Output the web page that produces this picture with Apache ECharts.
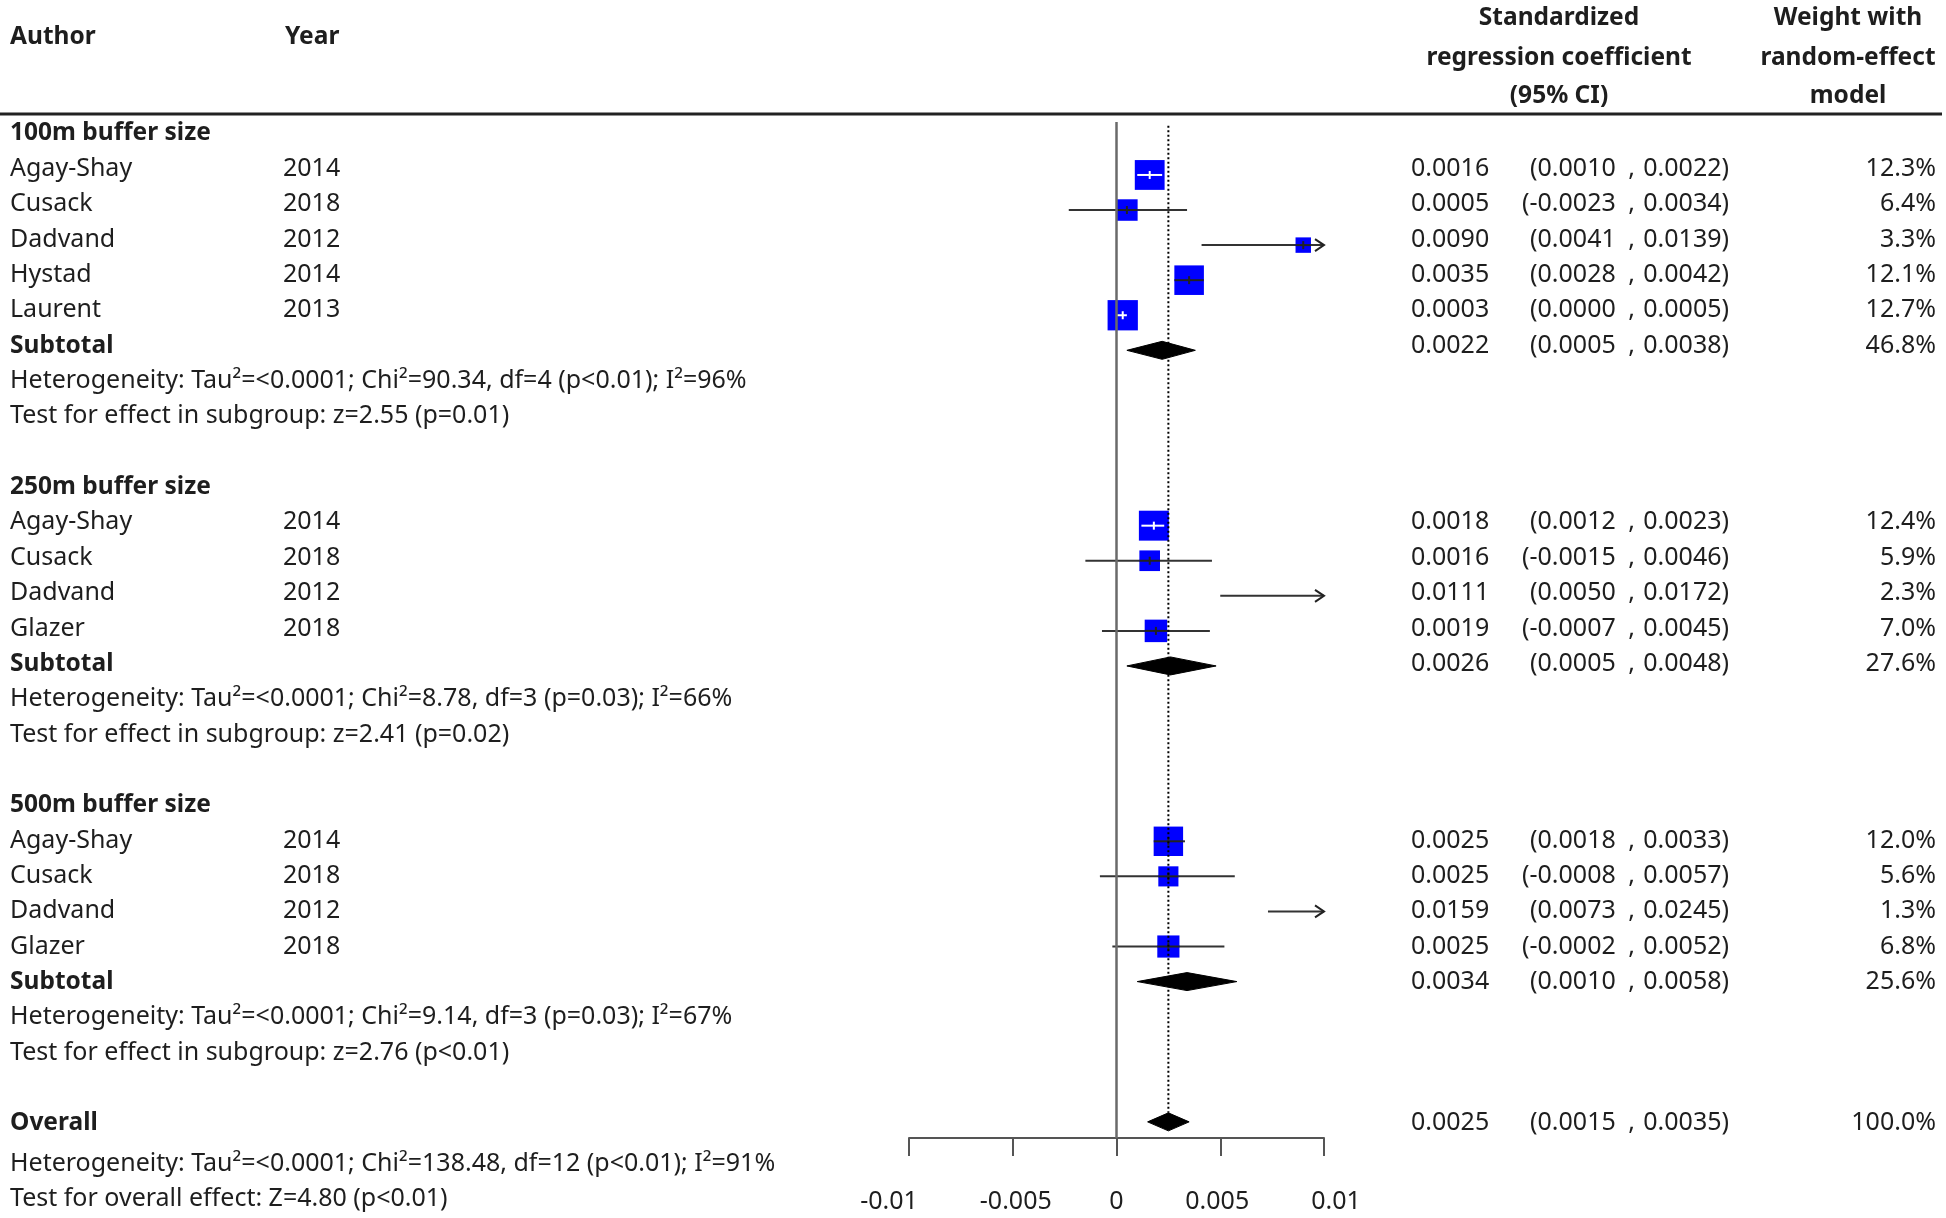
<!DOCTYPE html>
<html>
<head>
<meta charset="utf-8">
<script src="https://cdn.jsdelivr.net/npm/echarts@6/dist/echarts.min.js"></script>
<style>
html,body{margin:0;padding:0;background:#ffffff;}
#chart{width:1946px;height:1218px;}
</style>
</head>
<body>
<div id="chart"></div>
<script>
// ---------------- DATA ----------------
const groupNames = ['100m buffer size', '250m buffer size', '500m buffer size'];
const studyGroup  = [0, 0, 0, 0, 0, 1, 1, 1, 1, 2, 2, 2, 2];
const studyAuthor = ['Agay-Shay', 'Cusack', 'Dadvand', 'Hystad', 'Laurent',
                     'Agay-Shay', 'Cusack', 'Dadvand', 'Glazer',
                     'Agay-Shay', 'Cusack', 'Dadvand', 'Glazer'];
const studyYear   = ['2014', '2018', '2012', '2014', '2013',
                     '2014', '2018', '2012', '2018',
                     '2014', '2018', '2012', '2018'];
const studyEst    = [0.0016, 0.0005, 0.0090, 0.0035, 0.0003,
                     0.0018, 0.0016, 0.0111, 0.0019,
                     0.0025, 0.0025, 0.0159, 0.0025];
const studyLo     = [0.0010, -0.0023, 0.0041, 0.0028, 0.0000,
                     0.0012, -0.0015, 0.0050, -0.0007,
                     0.0018, -0.0008, 0.0073, -0.0002];
const studyHi     = [0.0022, 0.0034, 0.0139, 0.0042, 0.0005,
                     0.0023, 0.0046, 0.0172, 0.0045,
                     0.0033, 0.0057, 0.0245, 0.0052];
const studyWeight = [12.3, 6.4, 3.3, 12.1, 12.7,
                     12.4, 5.9, 2.3, 7.0,
                     12.0, 5.6, 1.3, 6.8];

const subEst    = [0.0022, 0.0026, 0.0034];
const subLo     = [0.0005, 0.0005, 0.0010];
const subHi     = [0.0038, 0.0048, 0.0058];
const subWeight = [46.8, 27.6, 25.6];
const subHet = [
  'Heterogeneity: Tau\u00B2=<0.0001; Chi\u00B2=90.34, df=4 (p<0.01); I\u00B2=96%',
  'Heterogeneity: Tau\u00B2=<0.0001; Chi\u00B2=8.78, df=3 (p=0.03); I\u00B2=66%',
  'Heterogeneity: Tau\u00B2=<0.0001; Chi\u00B2=9.14, df=3 (p=0.03); I\u00B2=67%'
];
const subTest = [
  'Test for effect in subgroup: z=2.55 (p=0.01)',
  'Test for effect in subgroup: z=2.41 (p=0.02)',
  'Test for effect in subgroup: z=2.76 (p<0.01)'
];

const overallEst = 0.0025, overallLo = 0.0015, overallHi = 0.0035, overallWeight = 100.0;
const overallHet  = 'Heterogeneity: Tau\u00B2=<0.0001; Chi\u00B2=138.48, df=12 (p<0.01); I\u00B2=91%';
const overallTest = 'Test for overall effect: Z=4.80 (p<0.01)';

const tickValues = [-0.01, -0.005, 0, 0.005, 0.01];
const tickLabels = ['-0.01', '-0.005', '0', '0.005', '0.01'];

const headerLeft = ['Author', 'Year'];
const headerCI   = ['Standardized', 'regression coefficient', '(95% CI)'];
const headerW    = ['Weight with', 'random-effect', 'model'];

// ---------------- LAYOUT / STYLE ----------------
const FONT = '"Noto Sans", "Open Sans", sans-serif';
const FS = 25;
const FS_BOLD = 24.5;
const TXT = '#1e1e1e';
const COL = { author: 10, year: 283, est: 1411, ci: 1729, w: 1936, ciHead: 1559, wHead: 1848 };
const GRID = { left: 909, width: 415, top: 0, height: 1138 };
const MARK_AXIS = { min: -3.989, max: 28.46 };   // rows -> pixels for marks
const TEXT_AXIS = { min: -3.7765, max: 28.416 }; // rows -> pixels for text
const SQUARE_K = 8.5;
const DIAMOND_H = 9;
const TICK_LABEL_SHIFT = [-20, 3, 0, -3, 12];    // px offsets of tick labels (as in reference)
const X_MIN = tickValues[0], X_MAX = tickValues[tickValues.length - 1];

// ---------------- BUILD ROWS ----------------
const textRows = [];
const studyData = [];
const diamondData = [];
let r = 0;
groupNames.forEach((g, gi) => {
  textRows.push({ r: r, author: g, bold: true });
  r++;
  for (let i = 0; i < studyAuthor.length; i++) {
    if (studyGroup[i] !== gi) continue;
    textRows.push({ r: r, author: studyAuthor[i], year: studyYear[i],
                    est: studyEst[i], lo: studyLo[i], hi: studyHi[i], w: studyWeight[i] });
    studyData.push([studyEst[i], r, studyLo[i], studyHi[i], studyWeight[i]]);
    r++;
  }
  textRows.push({ r: r, author: 'Subtotal', bold: true,
                  est: subEst[gi], lo: subLo[gi], hi: subHi[gi], w: subWeight[gi] });
  diamondData.push([subEst[gi], r, subLo[gi], subHi[gi]]);
  r++;
  textRows.push({ r: r, author: subHet[gi] }); r++;
  textRows.push({ r: r, author: subTest[gi] }); r++;
  r++;
});
const overallRow = r;
textRows.push({ r: overallRow, author: 'Overall', bold: true,
                est: overallEst, lo: overallLo, hi: overallHi, w: overallWeight });
diamondData.push([overallEst, overallRow, overallLo, overallHi]);
textRows.push({ r: overallRow + 1.15, author: overallHet });
textRows.push({ r: overallRow + 2.15, author: overallTest });

const fmt4 = v => v.toFixed(4);

function txt(text, x, y, align, bold) {
  return {
    type: 'text', x: x, y: y, silent: true,
    style: {
      text: text, fill: TXT, fontSize: bold ? FS_BOLD : FS, fontFamily: FONT,
      fontWeight: bold ? 'bold' : 'normal',
      align: align, verticalAlign: 'middle',
      textAlign: align, textVerticalAlign: 'middle'
    }
  };
}

function renderText(params, api) {
  const t = textRows[params.dataIndex];
  const y = api.coord([0, t.r])[1];
  const ch = [txt(t.author, COL.author, y, 'left', t.bold)];
  if (t.year) ch.push(txt(t.year, COL.year, y, 'left', false));
  if (t.est !== undefined) {
    ch.push(txt(fmt4(t.est), COL.est, y, 'left', false));
    ch.push(txt('(' + fmt4(t.lo) + '\u2002,\u2004' + fmt4(t.hi) + ')', COL.ci, y, 'right', false));
    ch.push(txt(t.w.toFixed(1) + '%', COL.w, y, 'right', false));
  }
  return { type: 'group', children: ch };
}

function renderStudy(params, api) {
  const est = api.value(0), row = api.value(1), lo = api.value(2), hi = api.value(3), w = api.value(4);
  const y = api.coord([0, row])[1];
  const xLo = api.coord([Math.max(lo, X_MIN), row])[0];
  const xHi = api.coord([Math.min(hi, X_MAX), row])[0];
  const xe = api.coord([est, row])[0];
  const ch = [{ type: 'line', shape: { x1: xLo, y1: y, x2: xHi, y2: y },
                style: { stroke: '#333333', lineWidth: 2 } }];
  if (hi > X_MAX) {
    ch.push({ type: 'polyline', shape: { points: [[xHi - 9, y - 6], [xHi, y], [xHi - 9, y + 6]] },
              style: { stroke: '#222222', lineWidth: 2, fill: null } });
  }
  if (lo < X_MIN) {
    ch.push({ type: 'polyline', shape: { points: [[xLo + 9, y - 6], [xLo, y], [xLo + 9, y + 6]] },
              style: { stroke: '#222222', lineWidth: 2, fill: null } });
  }
  if (est >= X_MIN && est <= X_MAX) {
    const s = SQUARE_K * Math.sqrt(w);
    ch.push({ type: 'rect', shape: { x: xe - s / 2, y: y - s / 2, width: s, height: s },
              style: { fill: '#0000ff' } });
    const inside = (xHi - xLo) < 0.95 * s ? '#ffffff' : '#222222';
    const a = Math.max(xLo, xe - s / 2), b = Math.min(xHi, xe + s / 2);
    ch.push({ type: 'line', shape: { x1: a, y1: y, x2: b, y2: y }, style: { stroke: inside, lineWidth: 2 } });
    ch.push({ type: 'line', shape: { x1: xe, y1: y - 4, x2: xe, y2: y + 4 }, style: { stroke: inside, lineWidth: 2 } });
  }
  return { type: 'group', children: ch };
}

function renderDiamond(params, api) {
  const est = api.value(0), row = api.value(1), lo = api.value(2), hi = api.value(3);
  const y = api.coord([0, row])[1];
  const xl = api.coord([lo, row])[0], xr = api.coord([hi, row])[0], xe = api.coord([est, row])[0];
  return { type: 'polygon',
           shape: { points: [[xl, y], [xe, y - DIAMOND_H], [xr, y], [xe, y + DIAMOND_H]] },
           style: { fill: '#000000', stroke: '#000000', lineWidth: 1 } };
}

const ZERO_TOP_ROW = -0.51;
const DOT_TOP_ROW = -0.40;
const rowPx = GRID.height / (MARK_AXIS.max - MARK_AXIS.min);

const graphics = [];
graphics.push({ type: 'line', shape: { x1: 0, y1: 114, x2: 1942, y2: 114 },
                style: { stroke: '#222222', lineWidth: 3 }, silent: true });
graphics.push(txt(headerLeft[0], COL.author, 37, 'left', true));
graphics.push(txt(headerLeft[1], COL.year + 2, 37, 'left', true));
const headY = [18, 58, 96];
headerCI.forEach((h, i) => graphics.push(txt(h, COL.ciHead, headY[i], 'center', true)));
headerW.forEach((h, i) => graphics.push(txt(h, COL.wHead, headY[i], 'center', true)));

// rich styles shifting each tick label horizontally
const tickRich = {};
TICK_LABEL_SHIFT.forEach((s, i) => {
  tickRich['t' + i] = {
    fontSize: FS, fontFamily: FONT, color: TXT,
    padding: s < 0 ? [0, -2 * s, 0, 0] : [0, 0, 0, 2 * s]
  };
});

const chart = echarts.init(document.getElementById('chart'), null, { renderer: 'canvas' });
chart.setOption({
  animation: false,
  backgroundColor: '#ffffff',
  grid: { left: GRID.left, width: GRID.width, top: GRID.top, height: GRID.height, containLabel: false },
  xAxis: {
    type: 'value', min: X_MIN, max: X_MAX, interval: 0.005, position: 'bottom',
    axisLine: { show: true, onZero: false, lineStyle: { color: '#555555', width: 2 } },
    axisTick: { show: true, length: 18, lineStyle: { color: '#555555', width: 2 } },
    axisLabel: {
      show: true, margin: 51, fontSize: FS, fontFamily: FONT, color: TXT,
      showMinLabel: true, showMaxLabel: true,
      rich: tickRich,
      formatter: v => {
        const k = tickValues.findIndex(t => Math.abs(t - v) < 1e-9);
        return k >= 0 ? '{t' + k + '|' + tickLabels[k] + '}' : '';
      }
    },
    splitLine: { show: false }
  },
  yAxis: [
    { type: 'value', inverse: true, min: MARK_AXIS.min, max: MARK_AXIS.max, show: false },
    { type: 'value', inverse: true, min: TEXT_AXIS.min, max: TEXT_AXIS.max, show: false }
  ],
  graphic: graphics,
  series: [
    { type: 'line', yAxisIndex: 0, symbol: 'none', silent: true,
      data: [[0, ZERO_TOP_ROW], [0, MARK_AXIS.max]],
      lineStyle: { color: '#6a6a6a', width: 2.5 } },
    { type: 'line', yAxisIndex: 0, symbol: 'none', silent: true,
      data: [[overallEst, DOT_TOP_ROW], [overallEst, overallRow - DIAMOND_H / rowPx]],
      lineStyle: { color: '#000000', width: 2, type: [2, 2.5] } },
    { type: 'custom', yAxisIndex: 0, clip: false, silent: true,
      data: studyData, renderItem: renderStudy },
    { type: 'custom', yAxisIndex: 0, clip: false, silent: true,
      data: diamondData, renderItem: renderDiamond },
    { type: 'custom', yAxisIndex: 1, clip: false, silent: true,
      data: textRows.map(t => [0, t.r]), renderItem: renderText }
  ]
});
</script>
</body>
</html>
